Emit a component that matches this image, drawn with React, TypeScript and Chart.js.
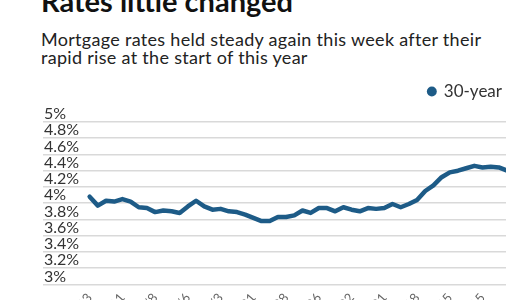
import React, { useEffect, useRef } from "react";
import { Chart, registerables } from "chart.js";

Chart.register(...registerables);

const titleText = "Rates little changed";
const subtitleLines = [
  "Mortgage rates held steady again this week after their",
  "rapid rise at the start of this year",
];
const seriesName = "30-year";

const weekLabels = [
  "4/13", "4/20", "4/27", "5/4", "5/11", "5/18", "5/25", "6/1", "6/8", "6/15",
  "6/22", "6/29", "7/6", "7/13", "7/20", "7/27", "8/3", "8/10", "8/17", "8/24",
  "8/31", "9/7", "9/14", "9/21", "9/28", "10/5", "10/12", "10/19", "10/26", "11/2",
  "11/9", "11/16", "11/22", "11/30", "12/7", "12/14", "12/21", "12/28", "1/4", "1/11",
  "1/18", "1/25", "2/1", "2/8", "2/15", "2/22", "3/1", "3/8", "3/15", "3/22",
  "3/29", "4/5",
];

const rate30 = [
  4.08, 3.97, 4.03, 4.02, 4.05, 4.02, 3.95, 3.94, 3.89, 3.91,
  3.90, 3.88, 3.96, 4.03, 3.96, 3.92, 3.93, 3.90, 3.89, 3.86,
  3.82, 3.78, 3.78, 3.83, 3.83, 3.85, 3.91, 3.88, 3.94, 3.94,
  3.90, 3.95, 3.92, 3.90, 3.94, 3.93, 3.94, 3.99, 3.95, 3.99,
  4.04, 4.15, 4.22, 4.32, 4.38, 4.40, 4.43, 4.46, 4.44, 4.45,
  4.44, 4.40,
];

const yMin = 3;
const yMax = 5;
const yStep = 0.2;
const labelEvery = 4;

const LINE_COLOR = "#1d5b87";
const FONT = "Lato, 'Open Sans', sans-serif";

const legendGap = {
  id: "legendGap",
  beforeInit(chart: any) {
    const legend = chart.legend;
    if (!legend) return;
    const origFit = legend.fit;
    legend.fit = function () {
      origFit.call(this);
      this.height += 12;
    };
  },
};

export default function App() {
  const canvasRef = useRef<HTMLCanvasElement | null>(null);

  useEffect(() => {
    const canvas = canvasRef.current;
    if (!canvas) return;
    const points = rate30.map((v, i) => ({ x: i, y: v }));
    const chart = new Chart(canvas, {
      type: "line",
      data: {
        datasets: [
          {
            label: seriesName,
            data: points,
            borderColor: LINE_COLOR,
            backgroundColor: LINE_COLOR,
            borderWidth: 4.5,
            pointRadius: 0,
            pointStyle: "circle",
            tension: 0,
            borderJoinStyle: "round",
            borderCapStyle: "round",
          },
        ],
      },
      plugins: [legendGap],
      options: {
        responsive: false,
        animation: false,
        devicePixelRatio: 1,
        layout: { padding: { left: 41, right: 0, top: 0, bottom: 0 } },
        plugins: {
          legend: {
            display: true,
            position: "top",
            align: "end",
            labels: {
              usePointStyle: true,
              boxHeight: 7,
              boxWidth: 7,
              padding: 10,
              color: "#333",
              font: { family: FONT, size: 17 },
              generateLabels: (c: any) =>
                Chart.defaults.plugins.legend.labels
                  .generateLabels(c)
                  .map((l: any) => ({ ...l, lineWidth: 0, fillStyle: LINE_COLOR, strokeStyle: LINE_COLOR })),
            },
          },
          tooltip: { enabled: false },
          title: { display: false },
        },
        scales: {
          x: {
            type: "linear",
            min: -5.7,
            max: rate30.length - 0.4,
            grid: { display: false, drawTicks: false },
            border: { display: false },
            afterBuildTicks: (s: any) => {
              s.ticks = weekLabels
                .map((_, i) => i)
                .filter((i) => i % labelEvery === 0)
                .map((i) => ({ value: i }));
            },
            ticks: {
              autoSkip: false,
              minRotation: 50,
              maxRotation: 50,
              padding: 6,
              color: "#666",
              font: { family: FONT, size: 13 },
              callback: (v: any) => weekLabels[Math.round(Number(v))] ?? "",
            },
          },
          y: {
            min: yMin,
            max: yMax,
            grid: { color: "#d9d9d9", lineWidth: 1.5, drawTicks: false },
            border: { display: false },
            ticks: {
              stepSize: yStep,
              autoSkip: false,
              mirror: true,
              padding: 1,
              labelOffset: -8,
              color: "#333",
              font: { family: FONT, size: 16 },
              callback: (v: any) => `${Number(Number(v).toFixed(1))}%`,
            },
          },
        },
      },
    });
    return () => chart.destroy();
  }, []);

  return (
    <div style={{ position: "absolute", left: 0, top: 0, width: 512, height: 340, overflow: "visible", background: "#fff" }}>
      <div
        style={{
          position: "absolute",
          left: 41,
          top: -14,
          fontFamily: FONT,
          fontWeight: 700,
          fontSize: 29,
          lineHeight: "29px",
          color: "#111",
          whiteSpace: "nowrap",
        }}
      >
        {titleText}
      </div>
      <div
        style={{
          position: "absolute",
          left: 41,
          top: 29.5,
          fontFamily: FONT,
          fontSize: 18,
          letterSpacing: "0.3px",
          lineHeight: "18.5px",
          color: "#222",
          whiteSpace: "nowrap",
        }}
      >
        {subtitleLines.map((t, i) => (
          <div key={i}>{t}</div>
        ))}
      </div>
      <div style={{ position: "absolute", left: 0, top: 73, width: 512, height: 261 }}>
        <canvas ref={canvasRef} width={512} height={261} style={{ width: 512, height: 261, display: "block" }} />
      </div>
    </div>
  );
}
